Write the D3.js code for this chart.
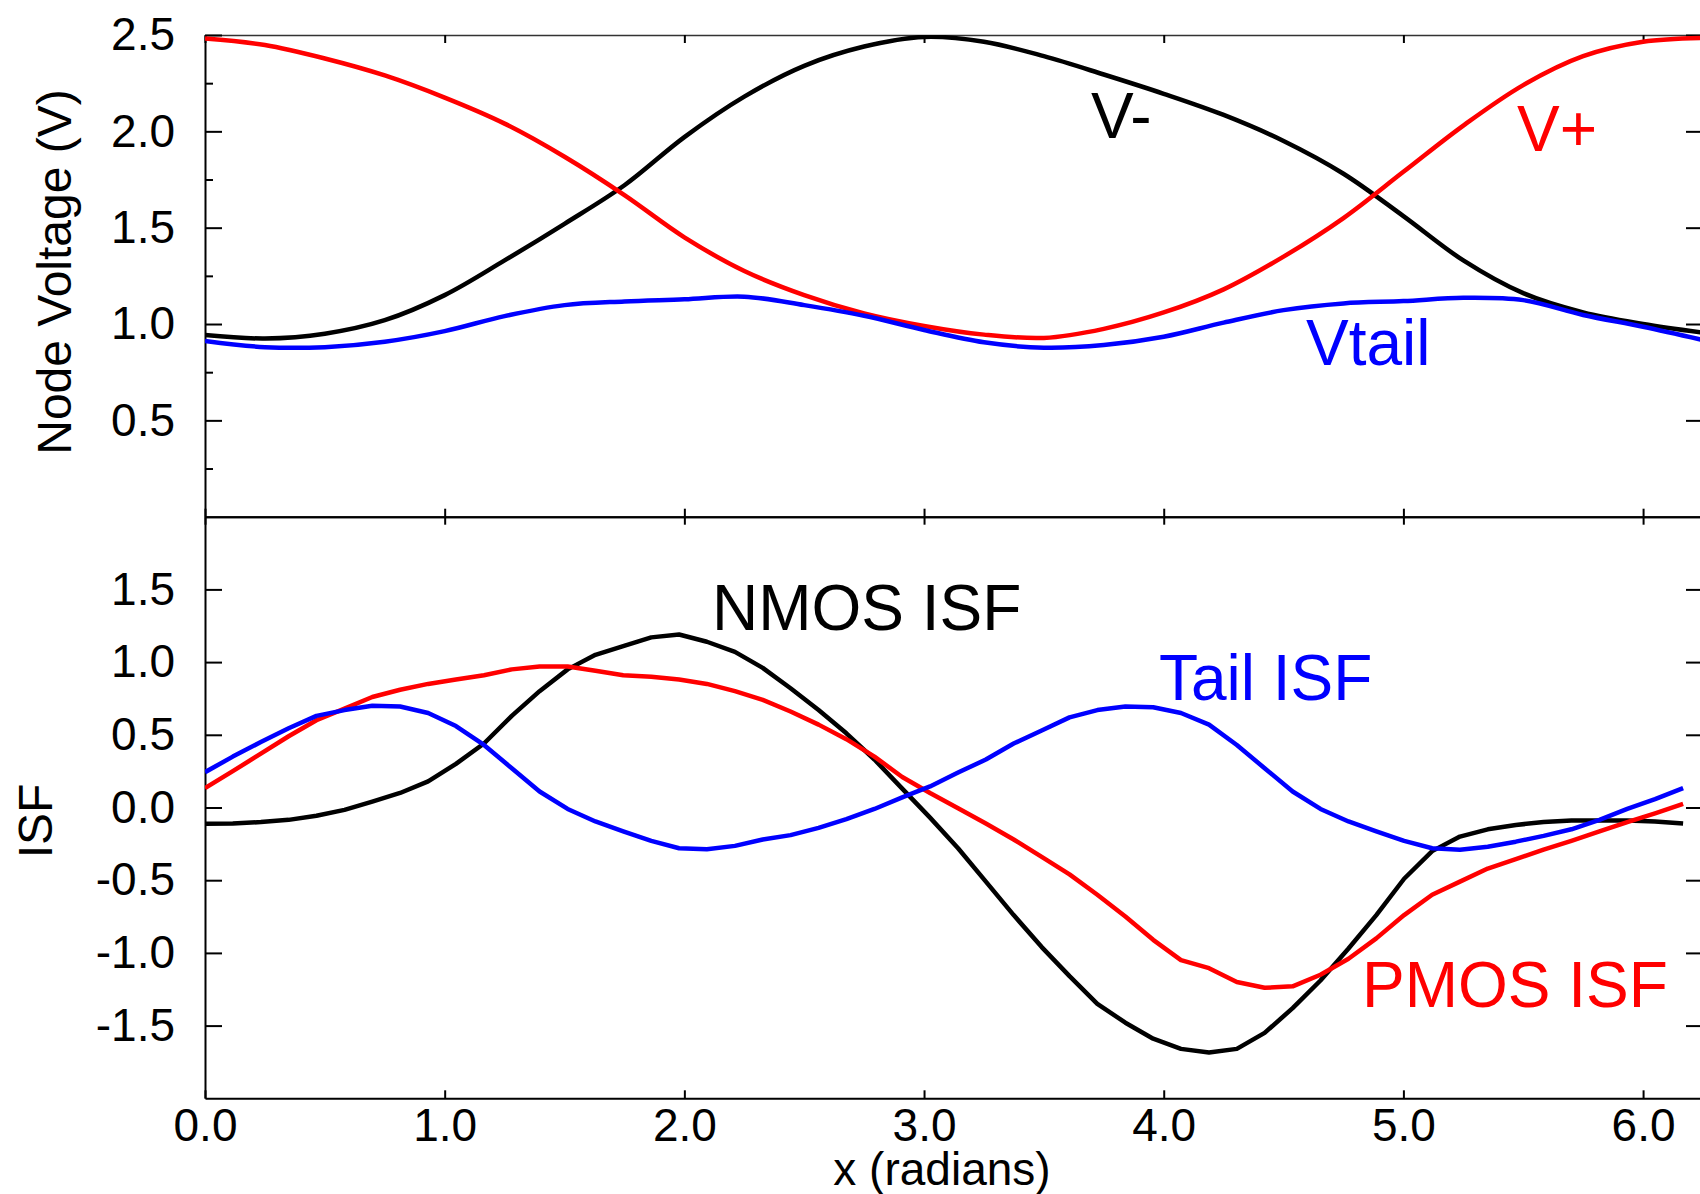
<!DOCTYPE html>
<html>
<head>
<meta charset="utf-8">
<script src="https://cdn.jsdelivr.net/npm/d3@7"></script>
<style>
  body { margin: 0; background: #fff; }
  svg text { font-family: "Liberation Sans", Arial, Helvetica, sans-serif; }
</style>
</head>
<body>
<div id="isf-chart"></div>
<script>
'use strict'

////////////////////////////////////
//////////// data //////////////////
////////////////////////////////////

// top panel: node voltages, read every 0.25 rad
const voltX = [0, 0.25, 0.5, 0.75, 1.0, 1.25, 1.5, 1.75, 2.0, 2.25, 2.5, 2.75, 3.0,
    3.25, 3.5, 3.75, 4.0, 4.25, 4.5, 4.75, 5.0, 5.25, 5.5, 5.75, 6.0, 6.25]
const vMinus = [0.943, 0.925, 0.95, 1.02, 1.15, 1.33, 1.52, 1.72, 1.97, 2.18, 2.34, 2.44, 2.49,
    2.465, 2.39, 2.295, 2.195, 2.085, 1.95, 1.78, 1.56, 1.33, 1.16, 1.06, 1.0, 0.955]
const vPlus = [2.482, 2.448, 2.378, 2.29, 2.175, 2.04, 1.868, 1.669, 1.45, 1.275, 1.15, 1.055, 0.99,
    0.945, 0.928, 0.975, 1.06, 1.18, 1.35, 1.55, 1.79, 2.03, 2.24, 2.39, 2.465, 2.485]
const vTail = [0.912, 0.880, 0.880, 0.908, 0.963, 1.041, 1.098, 1.117, 1.128, 1.142, 1.098, 1.043, 0.969,
    0.905, 0.877, 0.891, 0.934, 1.007, 1.072, 1.107, 1.119, 1.136, 1.124, 1.047, 0.986, 0.917]

// bottom panel: ISF samples (54 points over one period)
const isfX = [0.000, 0.116, 0.233, 0.349, 0.465, 0.582, 0.698, 0.814, 0.931, 1.047,
    1.164, 1.280, 1.396, 1.513, 1.629, 1.745, 1.862, 1.978, 2.094, 2.211,
    2.327, 2.443, 2.560, 2.676, 2.793, 2.909, 3.025, 3.142, 3.258, 3.374,
    3.491, 3.607, 3.723, 3.840, 3.956, 4.072, 4.189, 4.305, 4.421, 4.538,
    4.654, 4.771, 4.887, 5.003, 5.120, 5.236, 5.352, 5.469, 5.585, 5.701,
    5.818, 5.934, 6.050, 6.167]
const nmosIsf = [-0.112, -0.110, -0.100, -0.085, -0.057, -0.016, 0.040, 0.100, 0.180, 0.300,
    0.440, 0.630, 0.800, 0.950, 1.050, 1.110, 1.170, 1.190, 1.140, 1.070,
    0.960, 0.820, 0.670, 0.510, 0.330, 0.130, -0.070, -0.280, -0.510, -0.740,
    -0.960, -1.160, -1.350, -1.480, -1.590, -1.660, -1.685, -1.660, -1.550, -1.380,
    -1.190, -0.970, -0.740, -0.490, -0.300, -0.200, -0.150, -0.120, -0.100, -0.090,
    -0.090, -0.090, -0.096, -0.110]
const pmosIsf = [0.133, 0.250, 0.370, 0.490, 0.600, 0.680, 0.760, 0.810, 0.850, 0.880,
    0.910, 0.950, 0.970, 0.970, 0.940, 0.910, 0.900, 0.880, 0.850, 0.800,
    0.740, 0.660, 0.570, 0.470, 0.350, 0.210, 0.100, -0.005, -0.110, -0.220,
    -0.340, -0.460, -0.600, -0.750, -0.910, -1.050, -1.105, -1.200, -1.240, -1.230,
    -1.150, -1.040, -0.900, -0.740, -0.600, -0.510, -0.420, -0.355, -0.290, -0.230,
    -0.165, -0.100, -0.040, 0.025]
const tailIsf = [0.243, 0.350, 0.450, 0.545, 0.630, 0.670, 0.700, 0.695, 0.650, 0.560,
    0.430, 0.270, 0.110, -0.010, -0.096, -0.165, -0.230, -0.280, -0.287, -0.264,
    -0.220, -0.190, -0.140, -0.080, -0.010, 0.070, 0.145, 0.240, 0.330, 0.440,
    0.530, 0.620, 0.670, 0.695, 0.690, 0.650, 0.570, 0.430, 0.270, 0.110,
    -0.010, -0.096, -0.165, -0.230, -0.280, -0.290, -0.270, -0.235, -0.195, -0.150,
    -0.085, -0.010, 0.057, 0.133]

// ticks
const xTicks = [0, 1, 2, 3, 4, 5, 6]
const voltTicks = [0.5, 1.0, 1.5, 2.0, 2.5]
const voltMinorTicks = [0.25, 0.75, 1.25, 1.75, 2.25]
const isfTicks = [-1.5, -1.0, -0.5, 0.0, 0.5, 1.0, 1.5]

////////////////////////////////////
//////////// svg setup /////////////
////////////////////////////////////

const svgWidth = 1700
const svgHeight = 1194

const plotLeft = 205
const plotRight = 1703
const voltTop = 35
const midLine = 516.7
const isfBottom = 1098.3

const fontTick = 46
const fontTitle = 48
const fontNote = 64

const svg = d3.select('#isf-chart')
    .append('svg')
    .attr('width', svgWidth)
    .attr('height', svgHeight)

////////////////////////////////////
//////////// scales ////////////////
////////////////////////////////////

const x = d3.scaleLinear().domain([0, 6.25]).range([plotLeft, plotRight])
const yVolt = d3.scaleLinear().domain([0, 2.5]).range([midLine, voltTop])
const yIsf = d3.scaleLinear().domain([-2, 2]).range([isfBottom, midLine])

const fmt = d => d.toFixed(1)

////////////////////////////////////
//////////// axes //////////////////
////////////////////////////////////

function drawAxis(axis, tx, ty, keepDomain = true) {
    const g = svg.append('g')
        .attr('transform', `translate(${tx},${ty})`)
        .call(axis)
        .attr('font-size', fontTick)
        .attr('font-family', '"Liberation Sans", Arial, sans-serif')
    g.select('.domain').attr('stroke', '#000').attr('stroke-width', 2)
    if (!keepDomain) g.select('.domain').remove()
    g.selectAll('.tick line').attr('stroke', '#000').attr('stroke-width', 2)
    g.selectAll('.tick text').attr('fill', '#000')
    return g
}

// top panel
drawAxis(d3.axisTop(x).tickValues(xTicks).tickSize(-8).tickSizeOuter(0).tickFormat(''), 0, voltTop)
    .select('.domain').attr('stroke', '#333').attr('stroke-width', 1.5)
drawAxis(d3.axisBottom(x).tickValues(xTicks).tickSize(-8).tickSizeOuter(0).tickFormat(''), 0, midLine)
drawAxis(d3.axisLeft(yVolt).tickValues(voltTicks).tickSize(-17).tickSizeOuter(0).tickPadding(30).tickFormat(fmt), plotLeft, 0)
drawAxis(d3.axisLeft(yVolt).tickValues(voltMinorTicks).tickSize(-8).tickFormat(''), plotLeft, 0, false)
drawAxis(d3.axisRight(yVolt).tickValues(voltTicks).tickSize(-17).tickSizeOuter(0).tickFormat(''), plotRight, 0)

// bottom panel
drawAxis(d3.axisTop(x).tickValues(xTicks).tickSize(-8).tickSizeOuter(0).tickFormat(''), 0, midLine)
drawAxis(d3.axisBottom(x).tickValues(xTicks).tickSize(-8).tickSizeOuter(0).tickPadding(10).tickFormat(fmt), 0, isfBottom)
drawAxis(d3.axisLeft(yIsf).tickValues(isfTicks).tickSize(-17).tickSizeOuter(0).tickPadding(30).tickFormat(fmt), plotLeft, 0)
drawAxis(d3.axisRight(yIsf).tickValues(isfTicks).tickSize(-17).tickSizeOuter(0).tickFormat(''), plotRight, 0)

////////////////////////////////////
//////////// curves ////////////////
////////////////////////////////////

const defs = svg.append('defs')
defs.append('clipPath').attr('id', 'clip-volt')
    .append('rect').attr('x', plotLeft).attr('y', voltTop)
    .attr('width', plotRight - plotLeft).attr('height', midLine - voltTop)
defs.append('clipPath').attr('id', 'clip-isf')
    .append('rect').attr('x', plotLeft).attr('y', midLine)
    .attr('width', plotRight - plotLeft).attr('height', isfBottom - midLine)

const voltLine = d3.line()
    .x(d => x(d[0]))
    .y(d => yVolt(d[1]))
    .curve(d3.curveCatmullRom.alpha(0.5))

const isfLine = d3.line()
    .x(d => x(d[0]))
    .y(d => yIsf(d[1]))

const voltSeries = [
    { values: vMinus, color: '#000000' },
    { values: vPlus, color: '#ff0000' },
    { values: vTail, color: '#0000ff' }
]
const isfSeries = [
    { values: nmosIsf, color: '#000000' },
    { values: pmosIsf, color: '#ff0000' },
    { values: tailIsf, color: '#0000ff' }
]

svg.append('g').attr('clip-path', 'url(#clip-volt)')
    .selectAll('path')
    .data(voltSeries)
    .join('path')
    .attr('d', s => voltLine(voltX.map((v, i) => [v, s.values[i]])))
    .attr('fill', 'none')
    .attr('stroke', s => s.color)
    .attr('stroke-width', 4.5)
    .attr('stroke-linejoin', 'round')

svg.append('g').attr('clip-path', 'url(#clip-isf)')
    .selectAll('path')
    .data(isfSeries)
    .join('path')
    .attr('d', s => isfLine(isfX.map((v, i) => [v, s.values[i]])))
    .attr('fill', 'none')
    .attr('stroke', s => s.color)
    .attr('stroke-width', 4.5)
    .attr('stroke-linejoin', 'round')

////////////////////////////////////
//////////// labels ////////////////
////////////////////////////////////

const notes = [
    { text: 'V-', x: 1091, y: 138, color: '#000000' },
    { text: 'V+', x: 1517, y: 151, color: '#ff0000' },
    { text: 'Vtail', x: 1306, y: 365, color: '#0000ff' },
    { text: 'NMOS ISF', x: 712, y: 630, color: '#000000' },
    { text: 'Tail ISF', x: 1159, y: 700, color: '#0000ff' },
    { text: 'PMOS ISF', x: 1362, y: 1007, color: '#ff0000' }
]

svg.append('g')
    .selectAll('text')
    .data(notes)
    .join('text')
    .attr('x', d => d.x)
    .attr('y', d => d.y)
    .attr('font-size', fontNote)
    .attr('fill', d => d.color)
    .text(d => d.text)

svg.append('text')
    .attr('transform', `translate(71,272) rotate(-90)`)
    .attr('text-anchor', 'middle')
    .attr('font-size', fontTitle)
    .text('Node Voltage (V)')

svg.append('text')
    .attr('transform', `translate(52,821) rotate(-90)`)
    .attr('text-anchor', 'middle')
    .attr('font-size', fontTitle)
    .text('ISF')

svg.append('text')
    .attr('x', 942)
    .attr('y', 1185)
    .attr('text-anchor', 'middle')
    .attr('font-size', 46)
    .text('x (radians)')
</script>
</body>
</html>
